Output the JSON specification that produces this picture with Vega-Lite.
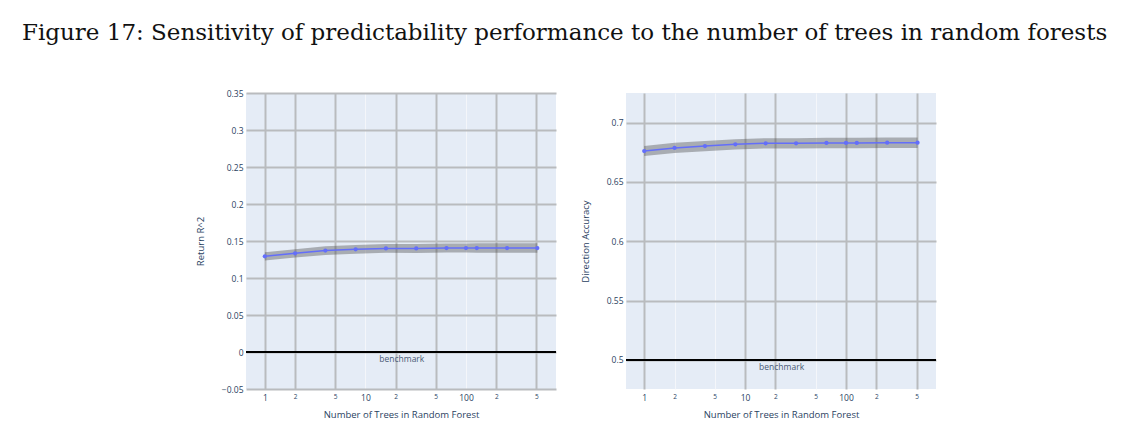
{
  "$schema": "https://vega.github.io/schema/vega-lite/v6.json",
  "padding": {"left": 22, "top": 22, "right": 5, "bottom": 5},
  "background": "white",
  "title": {
    "text": "Figure 17: Sensitivity of predictability performance to the number of trees in random forests",
    "font": "DejaVu Serif",
    "fontSize": 23,
    "fontWeight": "normal",
    "color": "#111",
    "anchor": "start",
    "frame": "group",
    "dx": -224,
    "offset": 44
  },
  "config": {
    "view": {"fill": "#E5ECF6", "stroke": null},
    "font": "Open Sans",
    "axis": {
      "labelFont": "Open Sans",
      "titleFont": "Open Sans",
      "labelColor": "#2a3f5f",
      "titleColor": "#2a3f5f",
      "titleFontWeight": "normal",
      "domain": false,
      "ticks": false,
      "labelOverlap": false,
      "tickCount": 30,
      "labelFontSize": 8.5,
      "titleFontSize": 9.5
    }
  },
  "spacing": 23,
  "hconcat": [
    {
      "width": 310,
      "height": 296,
      "data": {"values": [
        {"trees": 1, "value": 0.1293, "lo": 0.1238, "hi": 0.1348},
        {"trees": 2, "value": 0.1333, "lo": 0.1277, "hi": 0.1389},
        {"trees": 4, "value": 0.1370, "lo": 0.1312, "hi": 0.1428},
        {"trees": 8, "value": 0.1387, "lo": 0.1327, "hi": 0.1447},
        {"trees": 16, "value": 0.1400, "lo": 0.1340, "hi": 0.1460},
        {"trees": 32, "value": 0.1400, "lo": 0.1339, "hi": 0.1461},
        {"trees": 64, "value": 0.1405, "lo": 0.1343, "hi": 0.1467},
        {"trees": 100, "value": 0.1405, "lo": 0.1343, "hi": 0.1467},
        {"trees": 128, "value": 0.1405, "lo": 0.1342, "hi": 0.1468},
        {"trees": 256, "value": 0.1405, "lo": 0.1342, "hi": 0.1468},
        {"trees": 512, "value": 0.1405, "lo": 0.1342, "hi": 0.1468}
      ]},
      "layer": [
        {
          "mark": {"type": "area", "color": "#444", "opacity": 0.38},
          "encoding": {
            "x": {
              "field": "trees", "type": "quantitative",
              "scale": {"type": "log", "domain": [0.65, 785], "nice": false},
              "axis": {
                "title": "Number of Trees in Random Forest",
                "values": [1, 2, 5, 10, 20, 50, 100, 200, 500],
                "tickCount": 30,
                "labelExpr": "(datum.value == 1 || datum.value == 10 || datum.value == 100) ? datum.label : substring(datum.label, 0, 1)",
                "labelFontSize": {"condition": {"test": "datum.value == 1 || datum.value == 10 || datum.value == 100", "value": 8.5}, "value": 6.5},
                "labelPadding": 4,
                "titlePadding": 8,
                "gridColor": {"condition": {"test": "datum.value == 10 || datum.value == 100", "value": "#F4F6FA"}, "value": "#B9BBBE"},
                "gridWidth": {"condition": {"test": "datum.value == 10 || datum.value == 100", "value": 1}, "value": 2}
              }
            },
            "y": {
              "field": "lo", "type": "quantitative",
              "scale": {"domain": [-0.05, 0.35], "nice": false, "zero": false},
              "axis": {
                "title": "Return R^2",
                "values": [-0.05, 0, 0.05, 0.1, 0.15, 0.2, 0.25, 0.3, 0.35],
                "tickCount": 30,
                "format": "~g",
                "labelPadding": 3,
                "titlePadding": 16,
                "gridColor": "#B9BBBE",
                "gridWidth": 2
              }
            },
            "y2": {"field": "hi"}
          }
        },
        {
          "mark": {"type": "line", "color": "#636EFA", "strokeWidth": 1.5, "point": {"color": "#636EFA", "size": 18, "filled": true, "opacity": 1}},
          "encoding": {
            "x": {"field": "trees", "type": "quantitative"},
            "y": {"field": "value", "type": "quantitative"}
          }
        },
        {
          "data": {"values": [{"bench": 0, "trees": 23, "label": "benchmark"}]},
          "layer": [
            {
              "mark": {"type": "rule", "color": "black", "strokeWidth": 2},
              "encoding": {"y": {"field": "bench", "type": "quantitative"}}
            },
            {
              "mark": {"type": "text", "baseline": "top", "dy": 3, "fontSize": 8.5, "color": "#4a5a75", "font": "Open Sans"},
              "encoding": {
                "x": {"field": "trees", "type": "quantitative"},
                "y": {"field": "bench", "type": "quantitative"},
                "text": {"field": "label"}
              }
            }
          ]
        }
      ]
    },
    {
      "width": 310,
      "height": 296,
      "data": {"values": [
        {"trees": 1, "value": 0.6761, "lo": 0.6718, "hi": 0.6804},
        {"trees": 2, "value": 0.6787, "lo": 0.6744, "hi": 0.6830},
        {"trees": 4, "value": 0.6803, "lo": 0.6760, "hi": 0.6846},
        {"trees": 8, "value": 0.6817, "lo": 0.6774, "hi": 0.6860},
        {"trees": 16, "value": 0.6826, "lo": 0.6783, "hi": 0.6869},
        {"trees": 32, "value": 0.6826, "lo": 0.6783, "hi": 0.6869},
        {"trees": 64, "value": 0.6829, "lo": 0.6785, "hi": 0.6873},
        {"trees": 100, "value": 0.6829, "lo": 0.6785, "hi": 0.6873},
        {"trees": 128, "value": 0.6829, "lo": 0.6785, "hi": 0.6873},
        {"trees": 256, "value": 0.6831, "lo": 0.6787, "hi": 0.6875},
        {"trees": 512, "value": 0.6831, "lo": 0.6787, "hi": 0.6875}
      ]},
      "layer": [
        {
          "mark": {"type": "area", "color": "#444", "opacity": 0.38},
          "encoding": {
            "x": {
              "field": "trees", "type": "quantitative",
              "scale": {"type": "log", "domain": [0.66, 780], "nice": false},
              "axis": {
                "title": "Number of Trees in Random Forest",
                "values": [1, 2, 5, 10, 20, 50, 100, 200, 500],
                "tickCount": 30,
                "labelExpr": "(datum.value == 1 || datum.value == 10 || datum.value == 100) ? datum.label : substring(datum.label, 0, 1)",
                "labelFontSize": {"condition": {"test": "datum.value == 1 || datum.value == 10 || datum.value == 100", "value": 8.5}, "value": 6.5},
                "labelPadding": 4,
                "titlePadding": 8,
                "gridColor": {"condition": {"test": "datum.value == 2 || datum.value == 5 || datum.value == 50", "value": "#F4F6FA"}, "value": "#B9BBBE"},
                "gridWidth": {"condition": {"test": "datum.value == 2 || datum.value == 5 || datum.value == 50", "value": 1}, "value": 2}
              }
            },
            "y": {
              "field": "lo", "type": "quantitative",
              "scale": {"domain": [0.4755, 0.725], "nice": false, "zero": false},
              "axis": {
                "title": "Direction Accuracy",
                "values": [0.5, 0.55, 0.6, 0.65, 0.7],
                "tickCount": 30,
                "format": "~g",
                "labelPadding": 3,
                "titlePadding": 16,
                "gridColor": "#B9BBBE",
                "gridWidth": 2
              }
            },
            "y2": {"field": "hi"}
          }
        },
        {
          "mark": {"type": "line", "color": "#636EFA", "strokeWidth": 1.5, "point": {"color": "#636EFA", "size": 18, "filled": true, "opacity": 1}},
          "encoding": {
            "x": {"field": "trees", "type": "quantitative"},
            "y": {"field": "value", "type": "quantitative"}
          }
        },
        {
          "data": {"values": [{"bench": 0.5, "trees": 23, "label": "benchmark"}]},
          "layer": [
            {
              "mark": {"type": "rule", "color": "black", "strokeWidth": 2},
              "encoding": {"y": {"field": "bench", "type": "quantitative"}}
            },
            {
              "mark": {"type": "text", "baseline": "top", "dy": 3, "fontSize": 8.5, "color": "#4a5a75", "font": "Open Sans"},
              "encoding": {
                "x": {"field": "trees", "type": "quantitative"},
                "y": {"field": "bench", "type": "quantitative"},
                "text": {"field": "label"}
              }
            }
          ]
        }
      ]
    }
  ]
}
